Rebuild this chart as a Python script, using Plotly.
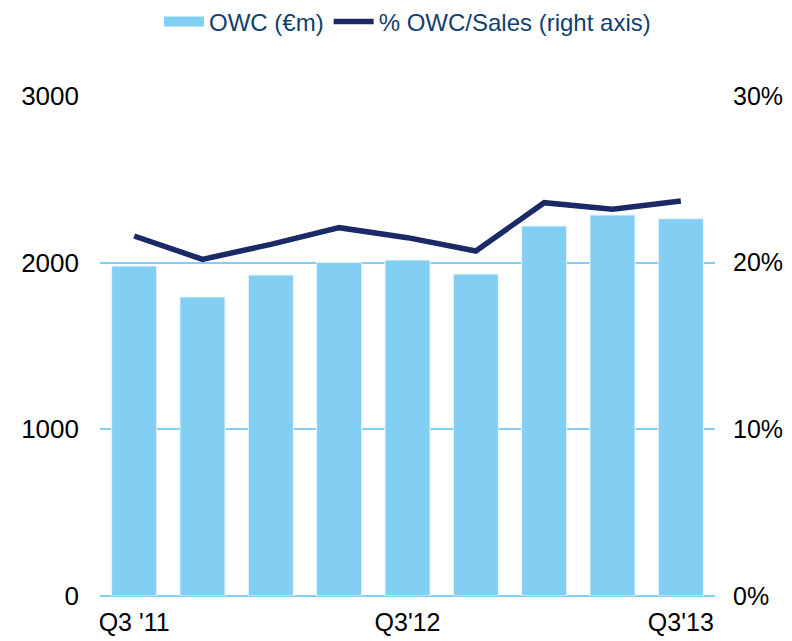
import plotly.graph_objects as go

quarters = ["Q3 '11", "Q4'11", "Q1'12", "Q2'12", "Q3'12", "Q4'12", "Q1'13", "Q2'13", "Q3'13"]
owc = [1980, 1794, 1926, 2002, 2016, 1932, 2220, 2286, 2264]
owc_sales_pct = [21.6, 20.2, 21.1, 22.1, 21.5, 20.7, 23.6, 23.2, 23.7]
tick_labels = {"Q3 '11": "Q3 '11", "Q3'12": "Q3'12", "Q3'13": "Q3'13"}

BAR = "#83CFF3"
LINE = "#1B2A66"
GRID = "#83CFF3"
FONT = "Liberation Sans, Arial, sans-serif"

fig = go.Figure()
fig.add_trace(go.Bar(
    x=quarters, y=owc, name="OWC (€m)", showlegend=False,
    marker=dict(color=BAR, line=dict(color="#E8F6FD", width=1)),
    yaxis="y",
))
# legend swatch for the bars (wide rectangle as in the reference)
fig.add_trace(go.Scatter(
    x=[None], y=[None], name="OWC (€m)", mode="lines",
    line=dict(color=BAR, width=18), yaxis="y",
))
fig.add_trace(go.Scatter(
    x=quarters, y=owc_sales_pct, name="% OWC/Sales (right axis)",
    mode="lines", line=dict(color=LINE, width=5.5),
    yaxis="y2",
))

fig.update_layout(
    width=776, height=633,
    margin=dict(l=92, r=69, t=88, b=45, autoexpand=False),
    paper_bgcolor="white", plot_bgcolor="white",
    bargap=0.34,
    font=dict(family=FONT, color="black", size=26),
    legend=dict(
        orientation="h", x=0.5, xanchor="center", y=1.148, yanchor="middle",
        font=dict(size=24, color="#123F6E"), traceorder="normal",
        itemwidth=40,
    ),
    xaxis=dict(
        type="category",
        tickmode="array",
        tickvals=list(tick_labels.keys()),
        ticktext=list(tick_labels.values()),
        showgrid=False, showline=False, ticks="",
        tickfont=dict(size=25),
        ticklabelstandoff=9,
    ),
    yaxis=dict(
        range=[0, 3000], tickvals=[0, 1000, 2000, 3000],
        showgrid=True, gridcolor=GRID, gridwidth=1.5,
        zeroline=True, zerolinecolor=GRID, zerolinewidth=2,
        showline=False, ticks="", ticklabelstandoff=20,
        tickfont=dict(size=26),
    ),
    yaxis2=dict(
        range=[0, 30], tickvals=[0, 10, 20, 30],
        ticktext=["0%", "10%", "20%", "30%"],
        overlaying="y", side="right", showgrid=False, zeroline=False,
        showline=False, ticks="", ticklabelstandoff=17,
        tickfont=dict(size=25),
    ),
)

fig.write_html("out.html")
